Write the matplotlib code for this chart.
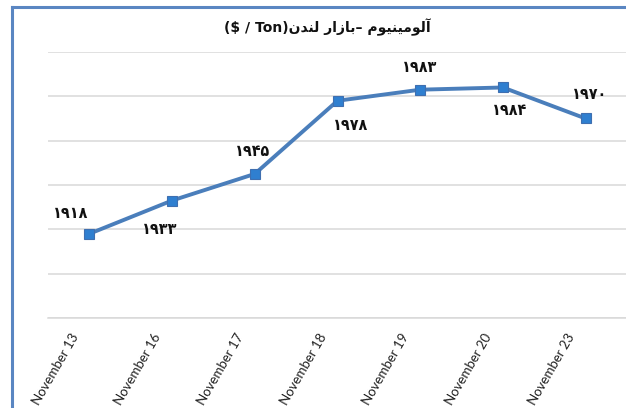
import matplotlib
matplotlib.use("Agg")
import matplotlib.pyplot as plt
import matplotlib.transforms as mtransforms
from matplotlib.lines import Line2D

# data
dates = ["November 13", "November 16", "November 17", "November 18",
         "November 19", "November 20", "November 23"]
prices = [1918, 1933, 1945, 1978, 1983, 1984, 1970]

# label placement (offset in px from the point)
label_dx = [-19, -12, -2, 13, -1, 7, 4]
label_dy = [20, -29, 22, -25, 22, -23, 24]

# title, pre-shaped (presentation forms, visual order) since matplotlib has no bidi
title_txt = ("($ / Ton)"
             + "\uFEE5\uFEAA\uFEE8\uFEDF" + " "
             + "\uFEAD\uFE8D\uFEAF\uFE8E\uFE91" + "\u2013" + " "
             + "\uFEE1\uFEEE\uFEF4\uFEE8\uFEF4\uFEE3\uFEEE\uFEDF\uFE81")

FA_DIGITS = str.maketrans("0123456789", "\u06F0\u06F1\u06F2\u06F3\u06F4\u06F5\u06F6\u06F7\u06F8\u06F9")

W, H, DPI = 626, 408, 100
fig = plt.figure(figsize=(W / DPI, H / DPI), dpi=DPI)
fig.patch.set_facecolor("white")

# outer chart frame (only left and top edges visible in the crop)
frame_c = "#5a86c2"
fig.add_artist(Line2D([12 / W, 1.0], [1 - 7 / H, 1 - 7 / H], color=frame_c, lw=2.2,
                      transform=fig.transFigure))
fig.add_artist(Line2D([12 / W, 12 / W], [0, 1 - 7 / H], color=frame_c, lw=2.2,
                      transform=fig.transFigure))

ax = fig.add_axes([48 / W, 1 - 318 / H, (627 - 48) / W, (318 - 52) / H])
x = list(range(len(dates)))
ax.plot(x, prices, color="#4a7ebb", lw=2.8, marker="s", ms=6.5,
        markerfacecolor="#2f7fd0", markeredgecolor="#3f6fb0", markeredgewidth=0.8,
        clip_on=False, zorder=3)

for i, v in enumerate(prices):
    ax.annotate(str(v).translate(FA_DIGITS), (x[i], v),
                xytext=(label_dx[i] * 0.72, label_dy[i] * 0.72), textcoords="offset points",
                ha="center", va="center", fontsize=11.5, fontweight="bold",
                family="DejaVu Sans", fontstretch="condensed", color="#111111")

ax.set_xlim(-0.5, len(dates) - 0.5)
ax.set_ylim(1880, 2000)
ax.set_yticks(range(1880, 2001, 20))
ax.yaxis.grid(True, color="#d9d9d9", lw=1.1)
ax.set_axisbelow(True)
ax.tick_params(axis="y", left=False, labelleft=False)
for s in ["top", "right", "left"]:
    ax.spines[s].set_visible(False)
ax.spines["bottom"].set_color("#d9d9d9")
ax.spines["bottom"].set_linewidth(1.1)

ax.set_xticks(x)
ax.set_xticklabels(dates, rotation=60, ha="right", va="center",
                   rotation_mode="anchor", fontsize=9.5, family="Lato", color="#222222")
ax.tick_params(axis="x", length=0, pad=12)
shift = mtransforms.ScaledTranslation(-14 / DPI, 0, fig.dpi_scale_trans)
for lab in ax.get_xticklabels():
    lab.set_transform(lab.get_transform() + shift)

fig.text(327 / W, 1 - 27 / H, title_txt, ha="center", va="center",
         fontsize=10, fontweight="bold", family="DejaVu Sans", color="#111111")

fig.savefig("out.png", dpi=DPI, facecolor="white")
